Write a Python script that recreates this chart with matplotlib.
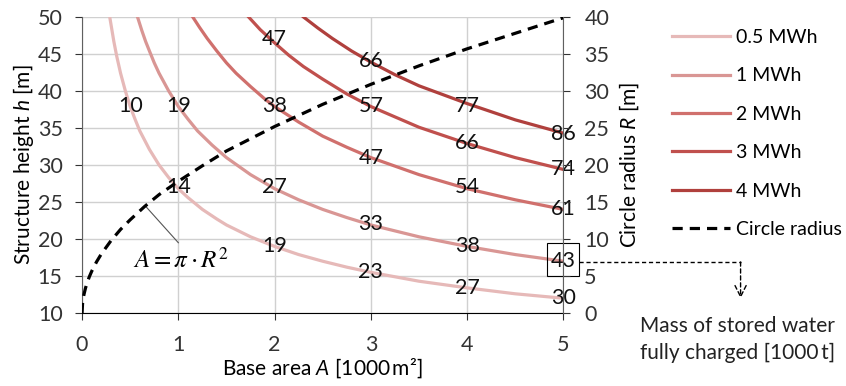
import numpy as np
import matplotlib
matplotlib.use("Agg")
import matplotlib.pyplot as plt
from matplotlib.patches import Rectangle

plt.rcParams["font.family"] = ["Lato", "DejaVu Sans"]
plt.rcParams["mathtext.fontset"] = "custom"
plt.rcParams["mathtext.it"] = "Lato:italic"
plt.rcParams["mathtext.rm"] = "Lato"

# curves: structure height h [m] vs base area A [1000 m2]
a_05 = [0.29, 0.33, 0.36, 0.4, 0.45, 0.5, 0.55, 0.6, 0.7, 0.8, 0.9, 1.0, 1.1, 1.25, 1.4, 1.5,
        1.75, 2.0, 2.25, 2.5, 2.75, 3.0, 3.5, 4.0, 4.5, 5.0]
h_05 = [49.8, 46.7, 44.7, 42.4, 40.0, 37.9, 36.2, 34.6, 32.1, 30.0, 28.3, 26.8, 25.6, 24.0, 22.7, 21.9,
        20.3, 19.0, 17.9, 17.0, 16.2, 15.5, 14.3, 13.4, 12.6, 12.0]
a_1 = [0.576, 0.62, 0.66, 0.7, 0.75, 0.8, 0.9, 1.0, 1.1, 1.2, 1.35, 1.5, 1.75, 2.0, 2.25, 2.5,
       2.75, 3.0, 3.5, 4.0, 4.5, 5.0]
h_1 = [50.0, 48.2, 46.7, 45.4, 43.8, 42.4, 40.0, 37.9, 36.2, 34.6, 32.7, 31.0, 28.7, 26.8, 25.3, 24.0,
       22.9, 21.9, 20.3, 19.0, 17.9, 17.0]
a_2 = [1.15, 1.22, 1.3, 1.4, 1.5, 1.6, 1.75, 1.9, 2.0, 2.25, 2.5, 2.75, 3.0, 3.5, 4.0, 4.5, 5.0]
h_2 = [50.0, 48.6, 47.1, 45.4, 43.8, 42.4, 40.6, 38.9, 37.9, 35.8, 33.9, 32.4, 31.0, 28.7, 26.8, 25.3, 24.0]
a_3 = [1.73, 1.85, 2.0, 2.15, 2.3, 2.5, 2.75, 3.0, 3.25, 3.5, 4.0, 4.5, 5.0]
h_3 = [50.0, 48.3, 46.5, 44.8, 43.3, 41.6, 39.6, 37.9, 36.5, 35.1, 32.9, 31.0, 29.4]
a_4 = [2.3, 2.45, 2.6, 2.8, 3.0, 3.25, 3.5, 3.75, 4.0, 4.5, 5.0]
h_4 = [50.0, 48.5, 47.1, 45.4, 43.9, 42.2, 40.7, 39.5, 38.3, 36.1, 34.3]

# circle radius R [m] vs base area
a_r = [0.0, 0.005, 0.01, 0.02, 0.035, 0.05, 0.075, 0.1, 0.15, 0.2, 0.3, 0.4, 0.5, 0.65, 0.8,
       1.0, 1.25, 1.5, 2.0, 2.5, 3.0, 3.5, 4.0, 4.5, 5.0]
r_r = [0.0, 1.26, 1.78, 2.52, 3.34, 3.99, 4.89, 5.64, 6.91, 7.98, 9.77, 11.3, 12.6, 14.4, 16.0,
       17.8, 19.9, 21.9, 25.2, 28.2, 30.9, 33.4, 35.7, 37.8, 39.9]

# stored water mass labels [1000 t] at points on the curves
mass_a = [0.5, 1, 2, 3, 4, 2, 3, 1, 2, 3, 4, 5, 2, 3, 4, 5, 3, 4, 5, 4, 5, 5]
mass_h = [38, 38, 38, 38, 38, 47, 44, 27, 27, 31, 33, 34.2, 19, 22, 27, 29.5, 15.5, 19, 24, 13.4, 17, 12]
mass_t = ["10", "19", "38", "57", "77", "47", "66", "14", "27", "47", "66", "86",
          "19", "33", "54", "74", "23", "38", "61", "27", "43", "30"]

labels = ["0.5 MWh", "1 MWh", "2 MWh", "3 MWh", "4 MWh"]
colors = ["#E6B9B8", "#D99694", "#D0706D", "#C0504D", "#B0403D"]

fig = plt.figure(figsize=(8.46, 3.86), dpi=100)
ax = fig.add_axes([0.097, 0.189, 0.569, 0.767])
ax2 = ax.twinx()

lines = []
for a, h, lab, c in zip([a_05, a_1, a_2, a_3, a_4], [h_05, h_1, h_2, h_3, h_4], labels, colors):
    ln, = ax.plot(a, h, color=c, lw=2.3, label=lab, zorder=3)
    lines.append(ln)
lr, = ax2.plot(a_r, r_r, color="black", lw=2.3, ls=(0, (3.2, 2.2)), label="Circle radius", zorder=3)
lines.append(lr)

for a, h, t in zip(mass_a, mass_h, mass_t):
    ax.text(a, h, t, ha="center", va="center", fontsize=15.5, color="#111111", zorder=5)

ax.set_xlim(0, 5)
ax.set_ylim(10, 50)
ax2.set_ylim(0, 40)
ax.set_xticks(range(0, 6))
ax.set_yticks(range(10, 51, 5))
ax2.set_yticks(range(0, 41, 5))
ax.grid(True, color="#D0D0D0", lw=1)
ax.set_axisbelow(True)
ax.spines["top"].set_visible(False)
ax2.spines["top"].set_visible(False)
ax.spines["left"].set_color("#606060")
ax2.spines["left"].set_visible(False)
ax.spines["right"].set_visible(False)
ax2.spines["right"].set_color("#606060")
ax.spines["bottom"].set_color("black")
ax2.spines["bottom"].set_visible(False)
ax.tick_params(labelsize=15.5, colors="#333333", length=5, pad=9)
ax.tick_params(axis="x", pad=11)
ax2.tick_params(labelsize=15.5, colors="#333333", length=5, pad=10)

ax.set_ylabel("Structure height $h$ [m]", fontsize=15, labelpad=1)
ax.set_xlabel("Base area $A$ [1000\u2009m\u00b2]", fontsize=15, labelpad=1)
ax2.set_ylabel("Circle radius $R$ [m]", fontsize=15, labelpad=6)

# formula callout
ax.plot([0.655, 1.0], [24.5, 19.5], color="#555555", lw=0.8, zorder=4)
ax.text(1.03, 17.2, r"$A = \pi \cdot R^2$", ha="center", va="center", fontsize=18,
        math_fontfamily="stix", zorder=5)

# box around 43 and pointer to explanation
ax.add_patch(Rectangle((4.83, 15.0), 0.33, 4.5, fill=False, ec="black", lw=0.8,
                       clip_on=False, zorder=6))
ax.plot([5.16, 6.84], [16.9, 16.9], color="black", lw=1, ls=(0, (3, 2)), clip_on=False)
ax.annotate("", xy=(6.84, 12.0), xytext=(6.84, 16.9), annotation_clip=False,
            arrowprops=dict(arrowstyle="->", color="black", lw=1, ls=(0, (3, 2)),
                            mutation_scale=20, shrinkA=0, shrinkB=0))
fig.text(0.872, 0.12, "Mass of stored water\nfully charged [1000\u2009t]", ha="center",
         va="center", fontsize=15, color="#222222", linespacing=1.4)

leg = fig.legend(handles=lines, loc="upper left", bbox_to_anchor=(0.785, 0.945), frameon=False,
                 fontsize=14, handlelength=3.0, handletextpad=0.3, labelspacing=1.1,
                 borderaxespad=0)

fig.savefig("out.png", dpi=100)
